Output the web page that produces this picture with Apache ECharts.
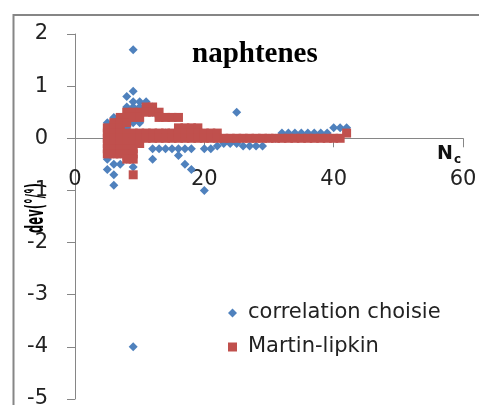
<!DOCTYPE html>
<html><head><meta charset="utf-8">
<script src="https://cdn.jsdelivr.net/npm/echarts@6/dist/echarts.min.js"></script>
<style>html,body{margin:0;padding:0;background:#fff}#c{width:479px;height:405px}</style>
</head><body><div id="c"></div>
<script>
// ---- data ----
const chartTitle = 'naphtenes';
const seriesNames = ['correlation choisie', 'Martin-lipkin'];
const xName = 'N';
const xNameSub = 'c';
const yName = 'dev(°/°)';
const xMin = 0, xMax = 60, xStep = 20;
const yMin = -5, yMax = 2, yStep = 1;

// correlation choisie : carbon number and deviations at that carbon number
const blueNc = [5, 6, 7, 8, 9, 10, 11, 12, 13, 14, 15, 16, 17, 18, 20, 21, 22, 23, 24, 25,
  26, 27, 28, 29, 30, 31, 32, 33, 34, 35, 36, 37, 38, 39, 40, 41, 42];
const blueDev = [
  [0.3, 0.2, 0, -0.2, -0.4, -0.6],
  [0.4, 0.3, -0.3, -0.5, -0.7, -0.9],
  [0.3, 0.2, -0.3, -0.5],
  [0.8, 0.6, 0.3, 0.2, -0.4],
  [1.7, 0.9, 0.7, 0.6, 0.4, 0.3, -0.55, -4.0],
  [0.7, 0.6, 0.3],
  [0.7, 0.6],
  [0.6, 0.5, -0.2, -0.4],
  [0.4, -0.2],
  [0.1, -0.2],
  [-0.2],
  [-0.2, -0.33],
  [-0.2, -0.5],
  [-0.2, -0.6],
  [-0.2, -1.0],
  [-0.2],
  [-0.15],
  [-0.1],
  [-0.1],
  [0.5, -0.1],
  [-0.15], [-0.15], [-0.15], [-0.15],
  [0], [0],
  [0.1], [0.1], [0.1], [0.1], [0.1], [0.1], [0.1], [0.1],
  [0.2], [0.2], [0.2]
];

// Martin-lipkin
const redNc = [5, 6, 7, 8, 9, 10, 11, 12, 13, 14, 15, 16, 17, 18, 19, 20, 21, 22,
  23, 24, 25, 26, 27, 28, 29, 30, 31, 32, 33, 34, 35, 36, 37, 38, 39, 40, 41, 42];
const redDev = [
  [0.2, 0.1, 0, -0.1, -0.2, -0.3],
  [0.3, 0.2, 0.1, 0, -0.1, -0.2, -0.3],
  [0.4, 0.3, 0.2, 0.1, 0, -0.1, -0.2, -0.3],
  [0.5, 0.4, 0.3, 0.1, 0, -0.1, -0.2, -0.3, -0.4],
  [0.5, 0.4, 0.1, 0, -0.1, -0.2, -0.3, -0.4, -0.7],
  [0.5, 0.4, 0.1, 0, -0.1],
  [0.6, 0.5, 0.1, 0],
  [0.6, 0.5, 0.1, 0],
  [0.5, 0.4, 0.1, 0],
  [0.4, 0.1, 0],
  [0.4, 0.1, 0],
  [0.4, 0.2, 0.1, 0],
  [0.2, 0.1, 0],
  [0.2, 0.1, 0],
  [0.2, 0.1, 0],
  [0.1, 0],
  [0.1, 0],
  [0.1, 0],
  [0], [0], [0], [0], [0], [0], [0], [0], [0], [0],
  [0], [0], [0], [0], [0], [0], [0], [0], [0],
  [0.1]
];

function pairs(ncs, devs) {
  const out = [];
  ncs.forEach((n, i) => devs[i].forEach(d => out.push([n, d])));
  return out;
}

const gray = '#868686';
const font = 'DejaVu Sans';
const gridTop = 34, gridBottom = 6, plotH = 405 - gridTop - gridBottom;
// the x axis crosses the y axis at dev = 0
const xAxisOffset = -plotH * (0 - yMin) / (yMax - yMin);

const chart = echarts.init(document.getElementById('c'), null, {renderer: 'canvas'});
chart.setOption({
  animation: false,
  backgroundColor: '#fff',
  title: {
    text: chartTitle, left: 187, top: 35,
    textStyle: {fontFamily: 'Liberation Serif', fontWeight: 'bold', fontSize: 29, color: '#000'}
  },
  grid: {left: 75, top: gridTop, right: 16, bottom: gridBottom, containLabel: false, outerBoundsMode: 'none'},
  legend: {
    orient: 'vertical', left: 223, top: 297, itemWidth: 9, itemHeight: 9, itemGap: 12,
    data: seriesNames,
    textStyle: {fontFamily: font, fontSize: 21, lineHeight: 22, color: '#222', padding: [0, 0, 0, 6]}
  },
  xAxis: {
    type: 'value', min: xMin, max: xMax, interval: xStep,
    position: 'bottom', offset: xAxisOffset,
    axisLine: {show: true, onZero: false, lineStyle: {color: gray, width: 1}},
    axisTick: {show: true, length: 9, lineStyle: {color: gray}},
    axisLabel: {show: true, margin: 31, fontFamily: font, fontSize: 21, color: '#222',
      showMinLabel: true, showMaxLabel: true, hideOverlap: false},
    splitLine: {show: false}
  },
  yAxis: {
    type: 'value', min: yMin, max: yMax, interval: yStep,
    axisLine: {show: true, onZero: false, lineStyle: {color: gray, width: 1}},
    axisTick: {show: true, length: 8, lineStyle: {color: gray}},
    axisLabel: {margin: 27, fontFamily: font, fontSize: 21, color: '#222'},
    splitLine: {show: false}
  },
  graphic: [
    {type: 'rect', shape: {x: 13.5, y: 15, width: 520, height: 450}, style: {fill: 'none', stroke: gray, lineWidth: 2}, silent: true},
    {type: 'text', x: 37, y: 208, rotation: Math.PI / 2, scaleX: 0.48, scaleY: 1,
      style: {text: yName, fontFamily: font, fontWeight: 'bold', fontSize: 24, fill: '#000', align: 'center', verticalAlign: 'middle'}},
    {type: 'text', x: 437, y: 154,
      style: {text: xName, fontFamily: font, fontWeight: 'bold', fontSize: 19, fill: '#111', align: 'left', verticalAlign: 'middle'}},
    {type: 'text', x: 454, y: 160,
      style: {text: xNameSub, fontFamily: font, fontWeight: 'bold', fontSize: 12, fill: '#111', align: 'left', verticalAlign: 'middle'}}
  ],
  series: [
    {name: seriesNames[0], type: 'scatter', symbol: 'diamond', symbolSize: 9,
      itemStyle: {color: '#4F81BD', opacity: 1}, data: pairs(blueNc, blueDev)},
    {name: seriesNames[1], type: 'scatter', symbol: 'rect', symbolSize: 9,
      itemStyle: {color: '#C0504D', opacity: 1}, data: pairs(redNc, redDev)}
  ]
});
</script>
</body></html>
